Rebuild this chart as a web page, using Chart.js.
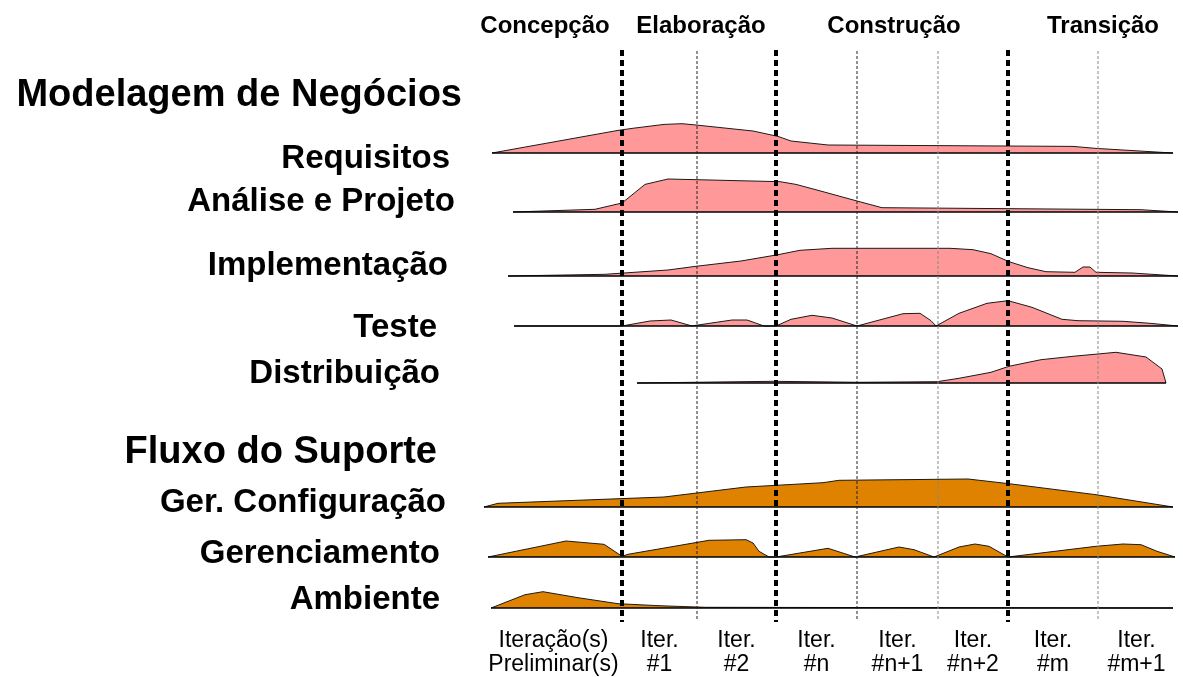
<!DOCTYPE html>
<html><head><meta charset="utf-8">
<script src="https://cdn.jsdelivr.net/npm/chart.js@4.4.0/dist/chart.umd.min.js"></script>
<style>html,body{margin:0;padding:0;background:#fff;overflow:hidden}#wrap{position:relative;width:1183px;height:677px}</style>
</head><body><div id="wrap"><canvas id="c"></canvas></div>
<script>
// ---- data (t = project timeline units, h = effort) ----
const phases = ["Concepção", "Elaboração", "Construção", "Transição"];
const groups = ["Modelagem de Negócios", "Fluxo do Suporte"];
const disciplines = ["Requisitos", "Análise e Projeto", "Implementação", "Teste", "Distribuição", "Ger. Configuração", "Gerenciamento", "Ambiente"];
const iterationLabels = [["Iteração(s)", "Preliminar(s)"], ["Iter.", "#1"], ["Iter.", "#2"], ["Iter.", "#n"], ["Iter.", "#n+1"], ["Iter.", "#n+2"], ["Iter.", "#m"], ["Iter.", "#m+1"]];
const iterationEdges = [0, 137, 212, 291, 372, 453, 523, 613, 690];
const phaseEdges = [137, 291, 523];
const iterationLines = [212, 372, 453, 613];

const requisitos = [[7,0],[133,22.6],[147,24.6],[179,28.6],[197,29.3],[211,28],[268,22],[293,16.6],[306,12],[343,8],[588,6.6],[611,4.6],[688,0]];
const analiseProjeto = [[28,0],[110,2.7],[137,9],[160,27.6],[183,33],[295,30.3],[311,27.6],[333,21.7],[372,11],[397,4.3],[656,2.3],[693,0]];
const implementacao = [[23,0],[120,1.7],[183,6],[211,9.7],[256,15],[293,21.3],[315,25.7],[347,27.7],[465,27.7],[488,26.3],[506,22.3],[524,14.3],[543,8.3],[561,4.3],[590,3.7],[598,9],[605,9],[611,3.7],[647,3],[693,0]];
const teste = [[29,0],[137,0],[165,5],[186,6],[207,0],[211,0.7],[247,6],[262,6],[279,0],[291,0],[306,6.7],[327,10.7],[347,8],[372,0],[418,12.3],[435,12.7],[446,5.3],[451,0],[474,12.7],[502,22.7],[523,25.3],[547,18.7],[577,6.7],[593,5.3],[638,4.7],[665,2.7],[693,0]];
const distribuicao = [[152,0],[288,1.7],[374,0.7],[452,1.3],[474,4.7],[506,10.7],[524,16.7],[556,23.3],[588,26.7],[631,30.7],[661,26],[677,14],[681,0]];
const gerConfiguracao = [[-1,0],[13,3.7],[179,10],[261,20],[338,24.3],[354,26.7],[483,28],[524,23.3],[611,12.3],[688,0]];
const gerenciamento = [[3,0],[81,16],[119,12.7],[137,0.7],[143,2.7],[224,16.7],[261,17.3],[268,14],[274,5.7],[284,0],[291,0],[343,8.7],[370,0],[414,10],[429,7.3],[449,0],[474,10],[490,13],[504,10.7],[523,0],[611,10.7],[638,13],[656,12.3],[672,5.7],[690,0]];
const ambiente = [[6,0],[40,13.3],[58,16.3],[93,10.3],[133,4.3],[174,2.3],[220,0.7],[688,0]];

// ---- layout / style ----
const W = 1183, H = 677, X0 = 485;
const series = [requisitos, analiseProjeto, implementacao, teste, distribuicao, gerConfiguracao, gerenciamento, ambiente];
const rowBaselines = [153, 212, 276, 326, 383, 507, 557, 608];
const PINK = '#ff9999', ORANGE = '#de8200';
const rowFills = [PINK, PINK, PINK, PINK, PINK, ORANGE, ORANGE, ORANGE];
const disciplineLayout = [[450,168],[455,211],[448,275],[437,337],[440,383],[446,512],[440,563],[440,609]];
const groupLayout = [[462,106],[437,463]];
const phaseCenters = [545, 701, 894, 1103];
const FONT = '"Liberation Sans", Arial, Helvetica, sans-serif';

const datasets = [];
series.forEach((s, i) => {
  const b = rowBaselines[i];
  datasets.push({data: s.map(([t, h]) => ({x: t, y: b - h})), borderColor: '#1a1a1a', borderWidth: 1,
    backgroundColor: rowFills[i], fill: {value: b}, pointRadius: 0, tension: 0, order: 3});
  datasets.push({data: [{x: s[0][0], y: b}, {x: s[s.length - 1][0], y: b}], borderColor: '#000', borderWidth: 1.6,
    fill: false, pointRadius: 0, order: 2});
});
phaseEdges.forEach(t => datasets.push({data: [{x: t, y: 50}, {x: t, y: 622}], borderColor: '#000', borderWidth: 4,
  borderDash: [6, 4], borderCapStyle: 'butt', fill: false, pointRadius: 0, order: 1}));
iterationLines.forEach((t, i) => datasets.push({data: [{x: t, y: 51}, {x: t, y: 620}], borderColor: i < 2 ? '#222' : '#888',
  borderWidth: 1, borderDash: [3, 2], fill: false, pointRadius: 0, order: 1}));

const textPlugin = {
  id: 'texts',
  afterDraw(chart) {
    const ctx = chart.ctx, xs = chart.scales.x;
    ctx.save();
    ctx.fillStyle = '#000';
    ctx.textBaseline = 'alphabetic';
    ctx.textAlign = 'right';
    ctx.font = 'bold 38px ' + FONT;
    groups.forEach((g, i) => ctx.fillText(g, groupLayout[i][0], groupLayout[i][1]));
    ctx.font = 'bold 33px ' + FONT;
    disciplines.forEach((d, i) => ctx.fillText(d, disciplineLayout[i][0], disciplineLayout[i][1]));
    ctx.textAlign = 'center';
    ctx.font = 'bold 24px ' + FONT;
    phases.forEach((p, i) => ctx.fillText(p, phaseCenters[i], 33));
    ctx.font = '23px ' + FONT;
    iterationLabels.forEach((lines, i) => {
      const cx = xs.getPixelForValue((iterationEdges[i] + iterationEdges[i + 1]) / 2);
      lines.forEach((ln, j) => ctx.fillText(ln, cx, 647 + j * 24));
    });
    ctx.restore();
  }
};

new Chart(document.getElementById('c'), {
  type: 'line',
  data: {datasets},
  options: {
    responsive: true, maintainAspectRatio: false, animation: false,
    layout: {padding: 0},
    plugins: {legend: {display: false}, tooltip: {enabled: false}},
    scales: {
      x: {type: 'linear', min: -X0, max: W - X0, display: false},
      y: {type: 'linear', min: 0, max: H, reverse: true, display: false}
    }
  },
  plugins: [textPlugin]
});
</script></body></html>
